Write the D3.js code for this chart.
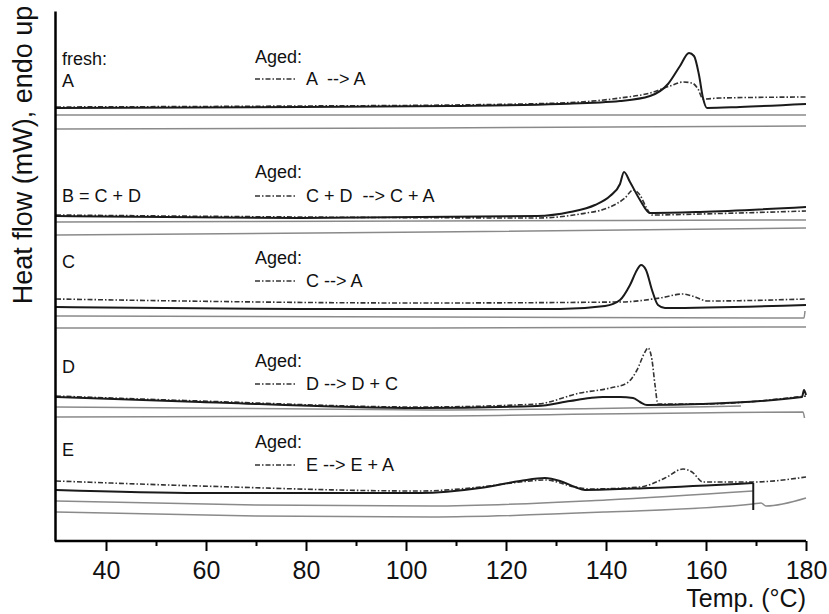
<!DOCTYPE html>
<html>
<head>
  <meta charset="UTF-8" />
  <title>DSC traces, fresh and aged</title>
  <script src="https://d3js.org/d3.v7.min.js"></script>
  <style>
    body { margin: 0; background: #fff; }
    svg { font-family: "Liberation Sans", Arial, sans-serif; }
    .fresh { fill: none; stroke: #1a1a1a; stroke-width: 2; }
    .aged { fill: none; stroke: #333; stroke-width: 1.6; stroke-dasharray: 5 2 1.5 2; }
    .base { fill: none; stroke: #8a8a8a; stroke-width: 1.5; }
    .lbl { font-size: 18px; fill: #111; }
  </style>
</head>
<body>
  <svg width="829" height="614" id="chart"></svg>
  <script>
    // temperature (°C), heat flow (offset units, endo up)
    const freshA = [[30,43.3],[78.8,43.4],[108.8,43.5],[130.8,43.7],[142.8,44.0],[148.8,44.5],[152.4,45.7],[154.8,47.5],[156.6,48.8],[157.6,48.5],[158.6,46.6],[159.4,44.3],[160.2,43.3],[166.8,43.4],[180,43.7]];
    const agedA  = [[30,43.4],[78.8,43.5],[108.8,43.6],[130.8,43.8],[142.8,44.3],[148.8,44.8],[152.8,45.5],[155.4,45.9],[157.2,45.8],[158.4,45.2],[159.4,44.2],[162.8,44.3],[180,44.4]];
    const baseA  = [[[30,42.6],[105,42.6],[180,42.6]], [[30,41.2],[105,41.3],[180,41.5]]];

    const freshB = [[30,32.5],[78.8,32.3],[126.2,32.5],[132.8,32.9],[137.8,33.6],[140.8,34.5],[142.8,35.7],[143.6,36.9],[144.8,35.9],[146.8,34.1],[148.8,32.8],[158.8,32.9],[180,33.4]];
    const agedB  = [[30,32.6],[78.8,32.4],[126.2,32.3],[134.8,32.7],[140.8,33.4],[143.8,34.3],[145.4,35.1],[146.8,34.6],[148,33.4],[149.2,32.6],[158.8,32.7],[180,33.0]];
    const baseB  = [[[30,31.9],[105,32.0],[180,32.1]], [[30,30.6],[105,30.9],[180,31.3]]];

    const freshC = [[30,23.4],[78.8,23.2],[130.8,23.2],[139.8,23.5],[142.8,24.1],[144.8,25.6],[146.2,27.1],[147,27.6],[148,27.1],[149.2,25.1],[150.4,23.6],[151.8,23.3],[180,23.6]];
    const agedC  = [[30,24.2],[102.8,23.8],[142.8,23.9],[150.8,24.3],[155.4,24.7],[157.8,24.4],[160.2,24.0],[180,24.2]];
    const baseC  = [[[30,22.5],[105,22.4],[179.6,22.3],[179.8,23.0]], [[30,21.3],[105,21.3],[180,21.4]]];

    const freshD = [[30,14.4],[58.8,13.9],[102.8,13.3],[126.2,13.5],[132.8,14.0],[136.8,14.3],[139.4,14.4],[142.8,14.4],[145.4,14.3],[146.8,13.9],[148.2,13.6],[158.8,13.7],[179.2,14.4],[179.6,15.1],[180,14.6]];
    const agedD  = [[30,14.5],[58.8,14.0],[102.8,13.4],[126.2,13.7],[134.8,14.8],[140.8,15.3],[144.2,15.8],[146.2,17.1],[147.8,18.9],[148.4,19.3],[149.2,18.1],[149.8,15.6],[150.4,13.7],[158.8,13.7],[180,14.5]];
    const baseD  = [[[30,13.4],[105,13.1],[167,13.5]], [[30,12.4],[105,12.5],[179.4,12.9],[179.7,12.3]]];

    const freshE = [[30,5.1],[58.8,4.8],[102.8,4.8],[114.8,5.3],[122.8,6.0],[127.8,6.3],[130.8,6.0],[133.8,5.4],[135.8,5.1],[148.8,5.3],[169.4,5.8]];
    const agedE  = [[30,6.0],[58.8,5.5],[102.8,5.0],[114.8,5.4],[122.8,5.9],[127.8,6.1],[133.8,5.4],[136.8,5.2],[146.8,5.4],[151.8,6.3],[155.4,7.2],[157.2,6.9],[159.4,5.9],[169.4,5.9],[180,6.4]];
    const baseE  = [[[30,4.0],[70,3.6],[105,3.5],[140,4.1],[169.4,5.0]], [[30,2.9],[70,2.5],[105,2.4],[140,2.9],[169.4,3.7],[171,3.8],[172,3.5],[180,4.3]]];
    const spikeE = [[169.45,5.8],[169.45,3.1]];

    const freshLabels = ["fresh:\nA", "B = C + D", "C", "D", "E"];
    const agedLabels = ["A  --> A", "C + D  --> C + A", "C --> A", "D --> D + C", "E --> E + A"];
    const majorTicks = [40, 60, 80, 100, 120, 140, 160, 180];
    const minorTicks = [50, 70, 90, 110, 130, 150, 170];

    const svg = d3.select("#chart");
    const x = d3.scaleLinear().domain([30, 180]).range([56, 806]);
    const y = d3.scaleLinear().domain([0, 53]).range([541, 11]);

    const smooth = d3.line().x(d => x(d[0])).y(d => y(d[1])).curve(d3.curveMonotoneX);
    const straight = d3.line().x(d => x(d[0])).y(d => y(d[1]));

    const panels = [
      { fresh: freshA, aged: agedA, base: baseA },
      { fresh: freshB, aged: agedB, base: baseB },
      { fresh: freshC, aged: agedC, base: baseC },
      { fresh: freshD, aged: agedD, base: baseD },
      { fresh: freshE, aged: agedE, base: baseE }
    ];

    const plot = svg.append("g");
    panels.forEach(p => {
      p.base.forEach(b => plot.append("path").attr("class", "base").attr("d", smooth(b)));
      plot.append("path").attr("class", "aged").attr("d", smooth(p.aged));
      plot.append("path").attr("class", "fresh").attr("d", smooth(p.fresh));
    });
    // sharp drop at the end of the E run
    plot.append("path").attr("class", "fresh").attr("stroke-width", 1.6).attr("d", straight(spikeE));

    // panel text, baselines
    const freshY = [65, 202, 268, 373, 456];
    const agedTitleY = [63, 178, 264, 367, 448];
    const agedTextY = [85, 202, 287, 390, 471];

    freshLabels.forEach((t, i) => {
      t.split("\n").forEach((s, j) => {
        svg.append("text").attr("class", "lbl")
          .attr("x", 62).attr("y", freshY[i] + j * 22).text(s);
      });
      svg.append("text").attr("class", "lbl").attr("x", 255).attr("y", agedTitleY[i]).text("Aged:");
      svg.append("line").attr("class", "aged")
        .attr("x1", 255).attr("x2", 296)
        .attr("y1", agedTextY[i] - 6).attr("y2", agedTextY[i] - 6);
      svg.append("text").attr("class", "lbl").attr("x", 306).attr("y", agedTextY[i])
        .style("white-space", "pre").text(agedLabels[i]);
    });

    // axes
    const xAxis = svg.append("g").attr("transform", "translate(0,541)")
      .call(d3.axisBottom(x).tickValues(majorTicks).tickSize(10).tickSizeOuter(0).tickPadding(10));
    xAxis.select(".domain").attr("stroke-width", 2.5).attr("d", "M55,0H806");
    xAxis.selectAll(".tick line").attr("stroke-width", 2);
    xAxis.selectAll(".tick text").attr("font-size", 25)
      .attr("font-family", "Liberation Sans, Arial, sans-serif").attr("fill", "#111");

    svg.append("g").attr("transform", "translate(0,541)")
      .call(d3.axisBottom(x).tickValues(minorTicks).tickSize(5).tickFormat(""))
      .call(g => g.select(".domain").remove())
      .selectAll(".tick line").attr("stroke-width", 2);

    svg.append("g").attr("transform", "translate(55,0)")
      .call(d3.axisLeft(y).tickValues([]).tickSizeOuter(0))
      .select(".domain").attr("stroke-width", 2.5);

    svg.append("text").attr("x", 806).attr("y", 607).attr("text-anchor", "end")
      .attr("font-size", 25).attr("fill", "#111").text("Temp. (°C)");

    svg.append("text").attr("transform", "translate(32,155) rotate(-90)")
      .attr("text-anchor", "middle").attr("font-size", 27).attr("fill", "#111")
      .text("Heat flow (mW), endo up");
  </script>
</body>
</html>
